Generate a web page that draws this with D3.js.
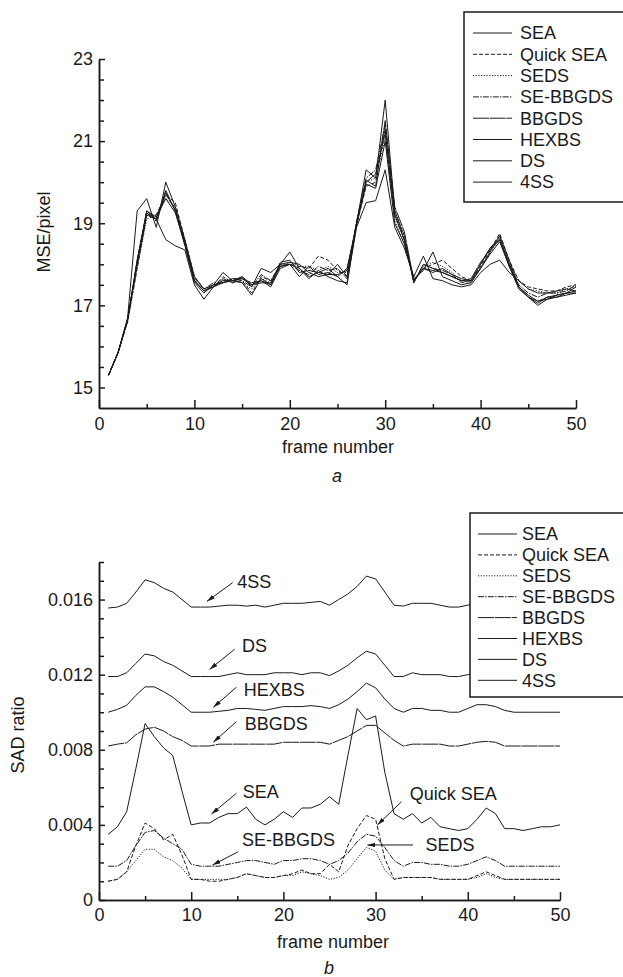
<!DOCTYPE html>
<html>
<head>
<meta charset="utf-8">
<script src="https://cdnjs.cloudflare.com/ajax/libs/d3/7.8.5/d3.min.js"></script>
<style>
  body { margin: 0; background: #fff; }
  svg { display: block; font-family: "Liberation Sans", Arial, sans-serif; }
</style>
</head>
<body>
<div id="chart"></div>
<script>
// DATA
// frame numbers on the x axis
var frames = d3.range(1, 51);
var seriesNames = ["SEA", "Quick SEA", "SEDS", "SE-BBGDS", "BBGDS", "HEXBS", "DS", "4SS"];

// (a) MSE per pixel, one array per search method
var mseSEA = [
  15.3, 15.85, 16.7, 19.3, 19.6, 18.9, 20.0, 19.4, 18.6, 17.7,
  17.4, 17.5, 17.8, 17.6, 17.7, 17.45, 17.9, 17.8, 18.0, 18.3,
  17.9, 17.7, 17.8, 17.9, 17.7, 17.5, 19.0, 20.3, 20.1, 22.0,
  19.3, 18.7, 17.55, 18.0, 17.9, 17.8, 17.7, 17.6, 17.6, 17.9,
  18.3, 18.7, 18.1, 17.45, 17.2, 17.0, 17.15, 17.2, 17.3, 17.45];
var mseQuickSEA = [
  15.3, 15.85, 16.6, 17.9, 19.2, 19.2, 19.7, 19.5, 18.6, 17.7,
  17.4, 17.45, 17.7, 17.55, 17.6, 17.3, 17.7, 17.6, 17.95, 18.0,
  17.95, 17.9, 18.2, 18.1, 17.85, 17.7, 18.95, 19.9, 20.0, 21.3,
  19.2, 18.6, 17.6, 17.9, 18.0, 18.1, 17.9, 17.7, 17.6, 17.95,
  18.35, 18.75, 18.1, 17.6, 17.45, 17.4, 17.35, 17.35, 17.45, 17.5];
var mseSEDS = [
  15.3, 15.85, 16.6, 17.9, 19.1, 19.2, 19.6, 19.4, 18.55, 17.6,
  17.35, 17.5, 17.6, 17.6, 17.55, 17.4, 17.65, 17.55, 17.95, 18.05,
  17.95, 17.95, 17.85, 17.95, 17.8, 17.8, 19.0, 20.0, 20.1, 21.1,
  19.1, 18.5, 17.6, 17.95, 18.05, 17.95, 17.8, 17.6, 17.55, 17.9,
  18.3, 18.6, 18.05, 17.6, 17.4, 17.35, 17.3, 17.3, 17.4, 17.45];
var mseSEBBGDS = [
  15.3, 15.85, 16.65, 18.0, 19.25, 19.05, 19.7, 19.35, 18.5, 17.65,
  17.4, 17.55, 17.55, 17.65, 17.6, 17.45, 17.75, 17.6, 18.0, 18.0,
  17.85, 17.75, 17.95, 17.85, 17.9, 17.65, 19.05, 20.1, 20.3, 21.4,
  19.3, 18.6, 17.55, 18.0, 17.9, 17.85, 17.75, 17.55, 17.6, 18.0,
  18.4, 18.6, 18.0, 17.5, 17.3, 17.2, 17.3, 17.3, 17.35, 17.5];
var mseBBGDS = [
  15.3, 15.85, 16.65, 18.1, 19.3, 19.1, 19.75, 19.3, 18.45, 17.6,
  17.35, 17.45, 17.65, 17.55, 17.7, 17.5, 17.6, 17.5, 18.05, 18.1,
  17.8, 17.85, 17.8, 17.75, 17.75, 17.85, 19.0, 20.05, 19.9, 21.5,
  19.4, 18.8, 17.6, 17.9, 17.85, 17.8, 17.7, 17.6, 17.65, 18.05,
  18.35, 18.6, 17.95, 17.4, 17.2, 17.1, 17.2, 17.25, 17.3, 17.35];
var mseHEXBS = [
  15.3, 15.85, 16.65, 18.05, 19.3, 19.15, 19.6, 19.25, 18.5, 17.55,
  17.3, 17.5, 17.55, 17.65, 17.65, 17.55, 17.6, 17.45, 17.9, 18.0,
  17.7, 17.95, 17.75, 17.8, 17.7, 17.9, 18.95, 19.95, 19.85, 21.0,
  19.0, 18.5, 17.65, 17.85, 18.3, 17.7, 17.6, 17.5, 17.55, 17.9,
  18.25, 18.55, 17.95, 17.45, 17.25, 17.1, 17.15, 17.25, 17.3, 17.3];
var mseDS = [
  15.3, 15.85, 16.65, 18.0, 19.2, 19.1, 19.8, 19.3, 18.55, 17.6,
  17.35, 17.45, 17.6, 17.6, 17.65, 17.5, 17.55, 17.55, 18.0, 18.05,
  18.0, 17.8, 17.7, 17.75, 18.0, 17.7, 19.0, 20.0, 20.2, 21.2,
  19.2, 18.6, 17.6, 17.9, 17.8, 17.9, 17.75, 17.65, 17.6, 18.0,
  18.4, 18.65, 18.0, 17.45, 17.2, 17.05, 17.2, 17.2, 17.25, 17.3];
var mse4SS = [
  15.3, 15.85, 16.65, 18.1, 19.25, 19.1, 18.6, 18.45, 18.35, 17.5,
  17.15, 17.45, 17.55, 17.6, 17.55, 17.25, 17.65, 17.5, 17.95, 18.0,
  17.9, 17.65, 17.85, 17.7, 17.6, 17.55, 18.9, 19.5, 19.55, 20.3,
  18.9, 18.4, 17.7, 18.2, 17.65, 17.6, 17.5, 17.45, 17.5, 17.8,
  18.0, 18.1, 17.8, 17.6, 17.4, 17.3, 17.3, 17.35, 17.4, 17.35];

// (b) SAD ratio, one array per search method
var sadSEA = [
  0.0035, 0.0039, 0.0047, 0.0070, 0.0094, 0.0087, 0.0081, 0.0077, 0.0058, 0.0040,
  0.0041, 0.0041, 0.0044, 0.0046, 0.0046, 0.00495, 0.0043, 0.0040, 0.0043, 0.0047,
  0.0044, 0.0049, 0.0049, 0.0051, 0.0055, 0.0051, 0.0077, 0.0102, 0.0096, 0.0098,
  0.0068, 0.0046, 0.0043, 0.0046, 0.0041, 0.0044, 0.0039, 0.0038, 0.0037, 0.0038,
  0.0043, 0.0049, 0.0046, 0.0038, 0.0038, 0.0037, 0.0038, 0.0039, 0.0039, 0.0040];
var sadQuickSEA = [
  0.0010, 0.0011, 0.0015, 0.0029, 0.0041, 0.0038, 0.0032, 0.0035, 0.0024, 0.0011,
  0.0011, 0.0010, 0.0010, 0.0011, 0.0012, 0.0014, 0.0013, 0.0012, 0.0012, 0.0013,
  0.0014, 0.0016, 0.0014, 0.0014, 0.0019, 0.0015, 0.0029, 0.0038, 0.0045, 0.0043,
  0.0022, 0.0011, 0.0012, 0.0012, 0.0012, 0.0012, 0.0011, 0.0011, 0.0011, 0.0011,
  0.0013, 0.0015, 0.0013, 0.0011, 0.0011, 0.0011, 0.0011, 0.0011, 0.0011, 0.0011];
var sadSEDS = [
  0.0010, 0.0011, 0.0015, 0.0021, 0.0027, 0.0027, 0.0023, 0.0021, 0.0017, 0.0011,
  0.0011, 0.0011, 0.0011, 0.0011, 0.0012, 0.0014, 0.0013, 0.0012, 0.0012, 0.0013,
  0.0013, 0.0015, 0.0014, 0.0013, 0.0011, 0.0012, 0.0016, 0.0022, 0.0028, 0.0026,
  0.0016, 0.0011, 0.0012, 0.0012, 0.0012, 0.0012, 0.0011, 0.0011, 0.0011, 0.0011,
  0.0012, 0.0014, 0.0012, 0.0011, 0.0011, 0.0011, 0.0011, 0.0011, 0.0011, 0.0011];
var sadSEBBGDS = [
  0.0018, 0.0018, 0.0021, 0.0029, 0.0036, 0.0037, 0.0033, 0.0030, 0.0027, 0.0019,
  0.0018, 0.0018, 0.0018, 0.0019, 0.0020, 0.0021, 0.0021, 0.0020, 0.0019, 0.0021,
  0.0021, 0.0022, 0.0022, 0.0021, 0.0019, 0.0021, 0.0025, 0.0031, 0.0035, 0.0034,
  0.0028, 0.0021, 0.0018, 0.0020, 0.0020, 0.0019, 0.0019, 0.0018, 0.0018, 0.0019,
  0.0021, 0.0023, 0.0021, 0.0018, 0.0018, 0.0018, 0.0018, 0.0018, 0.0018, 0.0018];
var sadBBGDS = [
  0.0082, 0.0083, 0.00837, 0.0088, 0.0091, 0.0092, 0.0090, 0.0087, 0.0085, 0.0082,
  0.0082, 0.0082, 0.0083, 0.0083, 0.0083, 0.0083, 0.0083, 0.0083, 0.0083, 0.0084,
  0.0084, 0.0084, 0.0084, 0.0084, 0.0083, 0.0085, 0.0087, 0.0090, 0.0093, 0.0093,
  0.0089, 0.0085, 0.0082, 0.0083, 0.0083, 0.0083, 0.0083, 0.0082, 0.0082, 0.0083,
  0.0084, 0.00845, 0.0084, 0.0082, 0.0082, 0.0082, 0.0082, 0.0082, 0.0082, 0.0082];
var sadHEXBS = [
  0.0100, 0.01015, 0.01037, 0.0109, 0.01135, 0.01135, 0.0111, 0.0108, 0.0104, 0.0100,
  0.0100, 0.0100, 0.01005, 0.0101, 0.0102, 0.0102, 0.01015, 0.0101, 0.0102, 0.0103,
  0.0103, 0.0103, 0.01035, 0.0103, 0.0102, 0.0104, 0.0107, 0.0111, 0.01155, 0.0113,
  0.0107, 0.0102, 0.0100, 0.0102, 0.0102, 0.0101, 0.0101, 0.0100, 0.0100, 0.0102,
  0.0104, 0.0104, 0.0103, 0.0101, 0.0100, 0.0100, 0.0100, 0.0100, 0.0100, 0.0100];
var sadDS = [
  0.0119, 0.0119, 0.0121, 0.0126, 0.0131, 0.0130, 0.0127, 0.0125, 0.0122, 0.0119,
  0.0119, 0.0119, 0.0119, 0.0120, 0.0121, 0.0120, 0.0120, 0.0120, 0.0121, 0.0121,
  0.0121, 0.0120, 0.0121, 0.0121, 0.01195, 0.0122, 0.0125, 0.0129, 0.01325, 0.0131,
  0.0125, 0.0119, 0.0119, 0.0121, 0.0120, 0.0120, 0.0120, 0.0119, 0.0119, 0.0120,
  0.0121, 0.0122, 0.0121, 0.0120, 0.0120, 0.0120, 0.0120, 0.0120, 0.0120, 0.0120];
var sad4SS = [
  0.01555, 0.0156, 0.0158, 0.0164, 0.01705, 0.0169, 0.0166, 0.0164, 0.0160, 0.0156,
  0.0156, 0.0156, 0.01565, 0.0157, 0.0157, 0.01565, 0.0157, 0.0156, 0.0157, 0.0158,
  0.0158, 0.0158, 0.01585, 0.0159, 0.0157, 0.0160, 0.0163, 0.0167, 0.01725, 0.0171,
  0.0164, 0.0157, 0.01565, 0.0158, 0.0158, 0.0158, 0.0157, 0.0156, 0.0156, 0.0157,
  0.0158, 0.0159, 0.0158, 0.0157, 0.0156, 0.0156, 0.0156, 0.0156, 0.0156, 0.0156];

// tick labels
var xMajorTicks = [0, 10, 20, 30, 40, 50];
var xMinorTicks = [5, 15, 25, 35, 45];
var yMajorTicksA = [15, 17, 19, 21, 23];
var yMinorTicksA = [15.5, 16, 16.5, 17.5, 18, 18.5, 19.5, 20, 20.5, 21.5, 22, 22.5];
var yMajorTicksB = [0, 0.004, 0.008, 0.012, 0.016];
var yMinorTicksB = [0.001, 0.002, 0.003, 0.005, 0.006, 0.007, 0.009, 0.010, 0.011, 0.013, 0.014, 0.015, 0.017, 0.018];

// labels with arrows in panel b: [text, text frame, text value, arrow start, arrow end]
var annotationsB = [
  ["4SS",      15.0, 0.01661, [14.5, 0.0169],  [11.7, 0.0159]],
  ["DS",       15.5, 0.0132,  [14.7, 0.01335], [12.0, 0.01228]],
  ["HEXBS",    15.7, 0.01086, [14.9, 0.01133], [12.4, 0.01026]],
  ["BBGDS",    15.8, 0.00905, [14.9, 0.0095],  [12.4, 0.0084]],
  ["SEA",      15.6, 0.00543, [14.9, 0.00568], [12.2, 0.00458]],
  ["SE-BBGDS", 15.5, 0.00288, [15.1, 0.00257], [12.3, 0.00186]],
  ["Quick SEA", 33.7, 0.00532, [32.8, 0.00523], [30.2, 0.0040]],
  ["SEDS",     35.4, 0.0026,  [34.05, 0.00293], [29.1, 0.00293]]
];

var mseData = [mseSEA, mseQuickSEA, mseSEDS, mseSEBBGDS, mseBBGDS, mseHEXBS, mseDS, mse4SS];
var sadData = [sadSEA, sadQuickSEA, sadSEDS, sadSEBBGDS, sadBBGDS, sadHEXBS, sadDS, sad4SS];

// STYLES
var dashes = {
  "SEA": null,
  "Quick SEA": "4,2",
  "SEDS": "1.2,1.5",
  "SE-BBGDS": "6,1.2,1.5,1.2",
  "BBGDS": "16,0.8",
  "HEXBS": null,
  "DS": null,
  "4SS": null
};
var ink = "#1a1a1a";

var svg = d3
  .select("#chart")
  .append("svg")
  .attr("width", 623)
  .attr("height", 977);

svg.append("rect").attr("width", 623).attr("height", 977).attr("fill", "#fff");

// arrow head for the annotations
svg.append("defs")
  .append("marker")
  .attr("id", "arrow")
  .attr("viewBox", "0 0 10 10")
  .attr("refX", 10)
  .attr("refY", 5)
  .attr("markerWidth", 8)
  .attr("markerHeight", 4.5)
  .attr("markerUnits", "userSpaceOnUse")
  .attr("preserveAspectRatio", "none")
  .attr("orient", "auto")
  .append("path")
  .attr("d", "M0,0 L10,5 L0,10 z")
  .attr("fill", ink);

// scales
var xA = d3.scaleLinear().domain([0, 50]).range([99, 576]);
var yA = d3.scaleLinear().domain([14.5, 23]).range([408, 59]);
var xB = d3.scaleLinear().domain([0, 50]).range([99, 560]);
var yB = d3.scaleLinear().domain([0, 0.018]).range([900, 562]);

function styleAxis(g) {
  g.selectAll("path, line").attr("stroke", ink).attr("stroke-width", 1.5);
  g.selectAll("text")
    .attr("fill", ink)
    .style("font-size", "18px")
    .style("font-family", '"Liberation Sans", Arial, sans-serif');
}

function drawAxes(x, y, yMajor, yMinor, yFormat, xPad) {
  var g = svg.append("g");
  var y0 = y.range()[0];
  var x0 = x.range()[0];
  g.append("g")
    .attr("transform", "translate(0," + y0 + ")")
    .call(d3.axisBottom(x).tickValues(xMinorTicks).tickSize(-4).tickSizeOuter(0).tickFormat(""))
    .call(styleAxis);
  g.append("g")
    .attr("transform", "translate(0," + y0 + ")")
    .call(d3.axisBottom(x).tickValues(xMajorTicks).tickSize(-8).tickSizeOuter(0).tickPadding(xPad))
    .call(styleAxis);
  g.append("g")
    .attr("transform", "translate(" + x0 + ",0)")
    .call(d3.axisLeft(y).tickValues(yMinor).tickSize(-5).tickSizeOuter(0).tickFormat(""))
    .call(styleAxis);
  g.append("g")
    .attr("transform", "translate(" + x0 + ",0)")
    .call(d3.axisLeft(y).tickValues(yMajor).tickSize(-6).tickSizeOuter(0).tickPadding(6).tickFormat(yFormat))
    .call(styleAxis);
}

function drawLines(x, y, data) {
  var line = d3.line()
    .x(function (d, i) { return x(frames[i]); })
    .y(function (d) { return y(d); });
  svg.append("g")
    .selectAll("path")
    .data(data)
    .enter()
    .append("path")
    .attr("d", line)
    .attr("fill", "none")
    .attr("stroke", ink)
    .attr("stroke-width", 1)
    .attr("stroke-dasharray", function (d, i) { return dashes[seriesNames[i]]; });
}

function drawLegend(left, top, bottom, firstRow, step, lineX0, lineX1, textX) {
  var g = svg.append("g");
  g.append("rect")
    .attr("x", left)
    .attr("y", top)
    .attr("width", 640 - left)
    .attr("height", bottom - top)
    .attr("fill", "#fff")
    .attr("stroke", ink)
    .attr("stroke-width", 1.5);
  var rows = g.selectAll("g.row")
    .data(seriesNames)
    .enter()
    .append("g")
    .attr("class", "row")
    .attr("transform", function (d, i) { return "translate(0," + (firstRow + i * step) + ")"; });
  rows.append("line")
    .attr("x1", lineX0)
    .attr("x2", lineX1)
    .attr("stroke", ink)
    .attr("stroke-width", 1)
    .attr("stroke-dasharray", function (d) { return dashes[d]; });
  rows.append("text")
    .attr("x", textX)
    .attr("dy", "0.35em")
    .attr("fill", ink)
    .style("font-size", "18px")
    .text(function (d) { return d; });
}

function axisTitles(xCenter, xBaseline, yTitle, yX, yCenter, letter, letterX, letterY) {
  svg.append("text")
    .attr("x", xCenter)
    .attr("y", xBaseline)
    .attr("text-anchor", "middle")
    .attr("fill", ink)
    .style("font-size", "18px")
    .text("frame number");
  svg.append("text")
    .attr("transform", "translate(" + yX + "," + yCenter + ") rotate(-90)")
    .attr("text-anchor", "middle")
    .attr("fill", ink)
    .style("font-size", "18px")
    .text(yTitle);
  svg.append("text")
    .attr("x", letterX)
    .attr("y", letterY)
    .attr("text-anchor", "middle")
    .attr("fill", ink)
    .style("font-size", "18px")
    .style("font-style", "italic")
    .text(letter);
}

// PANEL A
drawLines(xA, yA, mseData);
drawAxes(xA, yA, yMajorTicksA, yMinorTicksA, d3.format("d"), 9);
drawLegend(464, 12, 202, 33, 21.3, 473, 512, 520);
axisTitles(338, 453, "MSE/pixel", 50, 232, "a", 337, 482);

// PANEL B
drawLines(xB, yB, sadData);
drawAxes(xB, yB, yMajorTicksB, yMinorTicksB, function (d) { return d === 0 ? "0" : d3.format(".3f")(d); }, 8);
drawLegend(470, 513, 697, 534, 20.9, 478, 517, 522);
axisTitles(333, 948, "SAD ratio", 24, 735, "b", 329, 974);

// annotations with arrows
var ann = svg.append("g");
annotationsB.forEach(function (a) {
  ann.append("line")
    .attr("x1", xB(a[3][0]))
    .attr("y1", yB(a[3][1]))
    .attr("x2", xB(a[4][0]))
    .attr("y2", yB(a[4][1]))
    .attr("stroke", ink)
    .attr("stroke-width", 1)
    .attr("marker-end", "url(#arrow)");
  ann.append("text")
    .attr("x", xB(a[1]))
    .attr("y", yB(a[2]))
    .attr("fill", ink)
    .style("font-size", "18px")
    .text(a[0]);
});
</script>
</body>
</html>
